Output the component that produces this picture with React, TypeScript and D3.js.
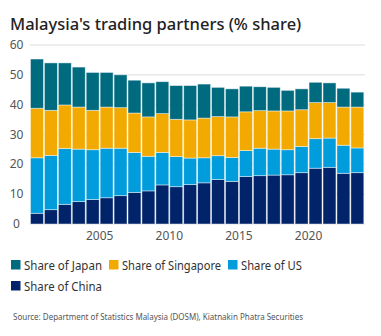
import React from "react";
import * as d3 from "d3";

const years = [2000, 2001, 2002, 2003, 2004, 2005, 2006, 2007, 2008, 2009, 2010, 2011, 2012, 2013, 2014, 2015, 2016, 2017, 2018, 2019, 2020, 2021, 2022, 2023];
const china = [3.6, 4.8, 6.6, 7.5, 8.2, 8.8, 9.5, 10.6, 11.1, 13.1, 12.5, 13.2, 13.8, 14.9, 14.3, 15.9, 16.2, 16.4, 16.5, 17.2, 18.7, 19.0, 17.0, 17.2];
const us = [18.6, 18.2, 18.7, 17.6, 16.7, 16.6, 15.9, 13.4, 11.6, 10.9, 10.1, 8.9, 8.4, 8.0, 8.0, 8.7, 9.2, 8.7, 8.4, 8.8, 9.9, 9.8, 9.4, 8.3];
const singapore = [16.6, 15.1, 14.6, 14.1, 13.2, 13.8, 13.6, 13.2, 13.2, 13.0, 12.5, 12.8, 13.3, 13.1, 13.6, 13.0, 12.6, 12.8, 13.0, 12.3, 12.1, 11.9, 12.8, 13.7];
const japan = [16.5, 15.9, 14.1, 13.4, 12.7, 11.6, 11.0, 11.0, 11.4, 10.7, 11.3, 11.5, 11.4, 9.8, 9.4, 8.6, 8.0, 7.9, 6.9, 7.0, 6.8, 6.6, 6.3, 5.0];
const seriesKeys = ["China", "US", "Singapore", "Japan"];
const seriesLabels = ["Share of China", "Share of US", "Share of Singapore", "Share of Japan"];
const yTicks = [0, 10, 20, 30, 40, 50, 60];
const xTickYears = [2005, 2010, 2015, 2020];

const colors: Record<string, string> = {
  China: "#002369",
  US: "#009cdc",
  Singapore: "#f2aa00",
  Japan: "#006a7e",
};

const FONT = "'Noto Sans', sans-serif";

export default function App() {
  const W = 381, H = 336;
  const left = 30, right = 364.3, top = 45, bottom = 224;
  const rows = years.map((yr, i) => ({
    year: yr,
    China: china[i],
    US: us[i],
    Singapore: singapore[i],
    Japan: japan[i],
  }));
  const stack = d3.stack<any>().keys(seriesKeys);
  const stacked = stack(rows);
  const x = d3.scaleBand<number>().domain(years).range([left, right]).paddingInner(0.07).paddingOuter(0.035);
  const y = d3.scaleLinear().domain([0, 60]).range([bottom, top]);
  const gapHalf = (x.step() * 0.07) / 2;

  const legendItems = [
    { key: "Japan", label: seriesLabels[3], x: 11, y: 260, w: 78 },
    { key: "Singapore", label: seriesLabels[2], x: 109, y: 260, w: 99 },
    { key: "US", label: seriesLabels[1], x: 228, y: 260, w: 61 },
    { key: "China", label: seriesLabels[0], x: 11, y: 281, w: 78 },
  ];

  return (
    <svg width={W} height={H} style={{ position: "absolute", left: 0, top: 0, background: "#fff" }} fontFamily={FONT}>
      <text x={10} y={30} fontSize={16.5} fontWeight={500} fill="#222">
        Malaysia's trading partners (% share)
      </text>
      {yTicks.map((t) => (
        <g key={t}>
          <line x1={left} x2={365} y1={y(t)} y2={y(t)} stroke="#dcdcdc" strokeWidth={1} />
          <text x={16.5} y={y(t) + 4} fontSize={12} fill="#555" textAnchor="middle">
            {t}
          </text>
        </g>
      ))}
      {stacked.map((s) => (
        <g key={s.key} fill={colors[s.key]}>
          {s.map((d, i) => (
            <rect
              key={i}
              x={x(years[i])}
              width={x.bandwidth()}
              y={y(d[1])}
              height={y(d[0]) - y(d[1])}
              stroke="rgba(255,255,255,0.55)"
              strokeWidth={0.8}
            />
          ))}
        </g>
      ))}
      {xTickYears.map((yr) => (
        <text key={yr} x={(x(yr) as number) - gapHalf} y={240} fontSize={12} fill="#555" textAnchor="middle">
          {yr}
        </text>
      ))}
      {legendItems.map((l) => (
        <g key={l.key}>
          <rect x={l.x} y={l.y} width={9.5} height={9.5} fill={colors[l.key]} />
          <text x={l.x + 13} y={l.y + 9.5} fontSize={12} fill="#333" textLength={l.w} lengthAdjust="spacingAndGlyphs">
            {l.label}
          </text>
        </g>
      ))}
      <text x={13} y={320} fontSize={8} fill="#555" textLength={290} lengthAdjust="spacingAndGlyphs">
        Source: Department of Statistics Malaysia (DOSM), Kiatnakin Phatra Securities
      </text>
    </svg>
  );
}
